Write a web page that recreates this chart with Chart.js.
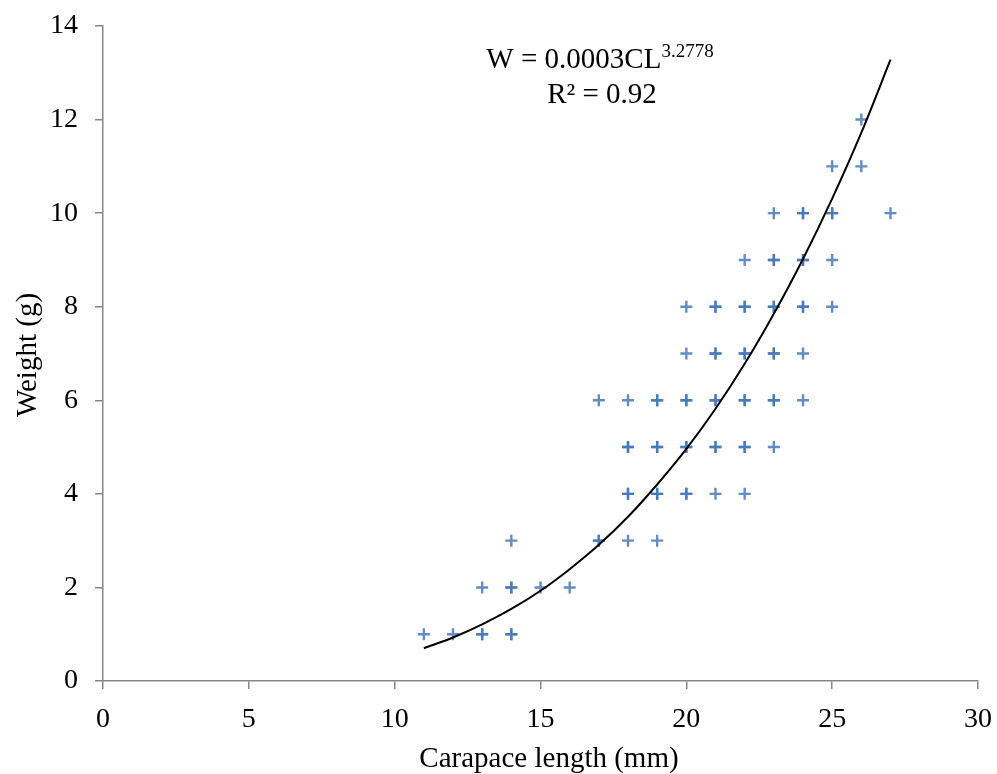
<!DOCTYPE html>
<html>
<head>
<meta charset="utf-8">
<script src="https://cdn.jsdelivr.net/npm/chart.js@4"></script>
<style>
  html, body { margin: 0; padding: 0; background: #fff; }
  #wrap { width: 997px; height: 774px; }
</style>
</head>
<body>
<div id="wrap"><canvas id="chart" width="997" height="774"></canvas></div>
<script>
// observed points (repeated entries = overlapping samples, drawn darker)
const carapaceLength = [
    11, 12, 13, 13, 13, 14, 14, 14, 14, 14, 15, 16,
    17, 17, 17, 18, 18, 18, 18, 18, 18, 19, 19, 19, 19, 19, 19, 19,
    20, 20, 20, 20, 20, 20, 20, 20, 21, 21, 21, 21, 21, 21, 21, 21, 21,
    22, 22, 22, 22, 22, 22, 22, 22, 22, 22, 23, 23, 23, 23, 23, 23, 23, 23, 23, 23,
    24, 24, 24, 24, 24, 24, 24, 24, 25, 25, 25, 25, 25, 26, 26, 27
];
const weight = [
    1, 1, 1, 1, 2, 1, 1, 2, 2, 3, 2, 2,
    3, 3, 6, 3, 4, 4, 5, 5, 6, 3, 4, 4, 5, 5, 6, 6,
    4, 4, 5, 5, 6, 6, 7, 8, 4, 5, 5, 6, 6, 7, 7, 8, 8,
    4, 5, 5, 6, 6, 7, 7, 8, 8, 9, 5, 6, 6, 7, 7, 8, 8, 9, 9, 10,
    6, 7, 8, 8, 9, 9, 10, 10, 8, 9, 10, 10, 11, 11, 12, 10
];

// power trend line
const trendLength = [11, 12, 13, 14, 15, 16, 17, 18, 19, 20, 21, 22, 23, 24, 25, 26, 27];
const trendWeight = [0.70, 0.93, 1.21, 1.54, 1.93, 2.39, 2.91, 3.51, 4.20, 4.96, 5.82, 6.78, 7.85, 9.02, 10.31, 11.72, 13.28];

const equationText = 'W = 0.0003CL';
const exponentText = '3.2778';
const r2Text = 'R\u00b2 = 0.92';
const xTitle = 'Carapace length (mm)';
const yTitle = 'Weight (g)';

const serif = '"Liberation Serif", "Times New Roman", serif';
const axisGray = '#868686';
const markerBlue = 'rgba(68, 121, 188, 0.85)';

const points = carapaceLength.map((x, i) => ({ x: x, y: weight[i] }));
const trend = trendLength.map((x, i) => ({ x: x, y: trendWeight[i] }));

// equation, R² and axis titles
const textLayer = {
    id: 'textLayer',
    afterDraw(chart) {
        const ctx = chart.ctx;
        ctx.save();
        ctx.fillStyle = '#000';
        ctx.textBaseline = 'alphabetic';
        ctx.font = '29px ' + serif;
        const mainW = ctx.measureText(equationText).width;
        ctx.font = '19px ' + serif;
        const supW = ctx.measureText(exponentText).width;
        const cx = 600;
        const startX = cx - (mainW + supW) / 2;
        ctx.font = '29px ' + serif;
        ctx.textAlign = 'left';
        ctx.fillText(equationText, startX, 68);
        ctx.font = '19px ' + serif;
        ctx.fillText(exponentText, startX + mainW, 57);
        ctx.font = '29px ' + serif;
        ctx.textAlign = 'center';
        ctx.fillText(r2Text, 602, 103);

        ctx.fillText(xTitle, 549, 767);

        ctx.translate(36, 355);
        ctx.rotate(-Math.PI / 2);
        ctx.fillText(yTitle, 0, 0);
        ctx.restore();
    }
};

new Chart(document.getElementById('chart'), {
    type: 'scatter',
    data: {
        datasets: [
            {
                label: 'Weight',
                data: points,
                pointStyle: 'cross',
                pointRadius: 6,
                pointHoverRadius: 6,
                borderWidth: 2.4,
                borderColor: markerBlue,
                backgroundColor: markerBlue,
                order: 2
            },
            {
                label: 'Power trend',
                type: 'line',
                data: trend,
                borderColor: '#000',
                borderWidth: 2,
                pointRadius: 0,
                fill: false,
                cubicInterpolationMode: 'monotone',
                order: 1
            }
        ]
    },
    options: {
        responsive: false,
        animation: false,
        events: [],
        layout: { padding: { top: 26, right: 19, bottom: 0, left: 0 } },
        plugins: {
            legend: { display: false },
            tooltip: { enabled: false }
        },
        scales: {
            x: {
                type: 'linear',
                min: 0,
                max: 30,
                afterFit: (s) => { s.height = 93; s.paddingLeft = 0; s.paddingRight = 0; },
                ticks: {
                    stepSize: 5,
                    color: '#000',
                    padding: 14,
                    font: { family: serif, size: 28 }
                },
                grid: { drawOnChartArea: false, drawTicks: true, tickLength: 8, color: axisGray, lineWidth: 1.5 },
                border: { color: axisGray, width: 1.5 }
            },
            y: {
                type: 'linear',
                min: 0,
                max: 14,
                afterFit: (s) => { s.width = 103; s.paddingTop = 0; s.paddingBottom = 0; },
                ticks: {
                    stepSize: 2,
                    color: '#000',
                    padding: 17,
                    font: { family: serif, size: 28 }
                },
                grid: { drawOnChartArea: false, drawTicks: true, tickLength: 8, color: axisGray, lineWidth: 1.5 },
                border: { color: axisGray, width: 1.5 }
            }
        }
    },
    plugins: [textLayer]
});
</script>
</body>
</html>
